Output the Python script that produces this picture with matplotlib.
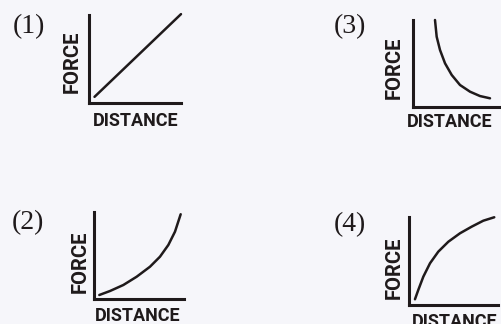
import matplotlib
matplotlib.use('Agg')
import matplotlib.pyplot as plt

# Courbes force / distance pour les quatre choix de réponse
panneaux = ['(1)', '(2)', '(3)', '(4)']

dist_1 = [0.6, 10.0]
force_1 = [0.7, 10.1]

dist_2 = [0.59, 1.78, 3.26, 4.74, 6.22, 7.33, 8.26, 9.0, 9.63]
force_2 = [0.46, 0.92, 1.61, 2.56, 3.71, 4.86, 6.21, 7.74, 9.74]

dist_3 = [2.5, 2.69, 3.07, 3.64, 4.40, 5.34, 6.48, 7.61, 8.75]
force_3 = [10.0, 8.08, 6.55, 5.02, 3.68, 2.53, 1.76, 1.26, 1.0]

dist_4 = [0.67, 1.04, 1.61, 2.36, 3.29, 4.42, 5.73, 7.04, 8.35, 9.58]
force_4 = [0.65, 1.70, 3.22, 4.74, 6.06, 7.19, 8.15, 8.90, 9.58, 9.97]

courbes = [(dist_1, force_1), (dist_2, force_2), (dist_3, force_3), (dist_4, force_4)]

fond = '#f6f6fa'
encre = '#1f1a1b'
police_axes = ['Roboto', 'DejaVu Sans']

W, H = 501, 324
fig = plt.figure(figsize=(W / 100, H / 100), dpi=100)
fig.patch.set_facecolor(fond)

# Position de chaque repère en pixels : gauche, droite, haut, bas
cadres = [(89, 181, 15, 103), (94, 184, 212, 299), (413, 501, 20, 107), (409, 498, 217, 305)]
# Position des titres d'axes (fraction du repère)
pos_distance = [(0.51, -0.10), (0.49, -0.095), (0.42, -0.07), (0.51, -0.09)]
pos_force = [(-0.08, 0.47), (-0.045, 0.43), (-0.11, 0.45), (-0.056, 0.42)]
# Position des numéros (centre en pixels)
numeros = [(29, 27), (28, 223), (350, 27), (350, 225)]

for i, nom in enumerate(panneaux):
    x, y = courbes[i]
    g, d, h, b = cadres[i]
    ax = fig.add_axes([g / W, 1 - b / H, (d - g) / W, (b - h) / H])
    ax.set_facecolor('none')
    ax.plot(x, y, color=encre, linewidth=1.8, clip_on=False, solid_capstyle='round',
            solid_joinstyle='round')
    ax.set_xlim(0, 10)
    ax.set_ylim(0, 10)
    for cote in ['top', 'right']:
        ax.spines[cote].set_visible(False)
    for cote in ['left', 'bottom']:
        ax.spines[cote].set_color(encre)
        ax.spines[cote].set_linewidth(2.2)
    ax.set_xticks([])
    ax.set_yticks([])
    ax.set_xlabel('DISTANCE', family=police_axes, fontweight='bold', fontsize=13, color=encre)
    ax.set_ylabel('FORCE', family=police_axes, fontweight='bold', fontsize=14.5, color=encre)
    ax.xaxis.set_label_coords(*pos_distance[i])
    ax.yaxis.set_label_coords(*pos_force[i])
    nx, ny = numeros[i]
    fig.text(nx / W, 1 - ny / H, nom, family=['Liberation Serif', 'DejaVu Serif'],
             fontsize=20, ha='center', va='center', color=encre)

fig.savefig('out.png', dpi=100, facecolor=fond)
